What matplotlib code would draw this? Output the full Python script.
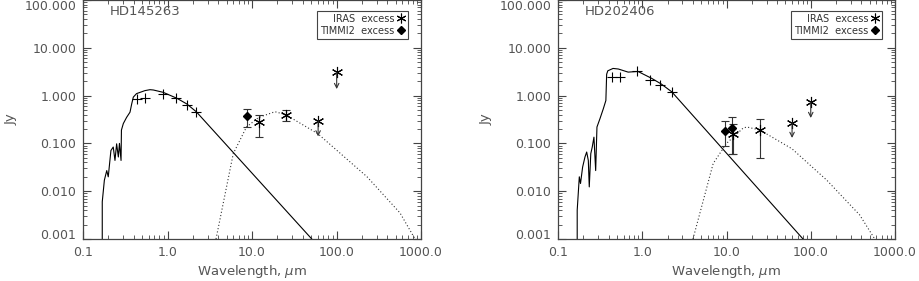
import matplotlib
matplotlib.use('Agg')
import matplotlib.pyplot as plt
from matplotlib.ticker import FixedLocator, FuncFormatter, LogLocator, NullFormatter
from matplotlib.lines import Line2D

plt.rcParams['font.family'] = ['DejaVu Sans']
plt.rcParams['mathtext.fontset'] = 'dejavusans'

TXT = '#555555'
AXC = '#444444'

names = ['HD145263', 'HD202406']

# ---- HD145263 ----
phot1_wl = [0.169, 0.169, 0.179, 0.191, 0.199, 0.214, 0.228, 0.239, 0.25, 0.262,
            0.27, 0.282, 0.285, 0.30, 0.328, 0.36, 0.377, 0.394, 0.43, 0.54,
            0.62, 0.68, 0.89, 1.29, 1.69, 2.19, 51.0]
phot1_fl = [0.001, 0.006, 0.017, 0.027, 0.02, 0.071, 0.084, 0.044, 0.098, 0.052,
            0.1, 0.044, 0.19, 0.26, 0.35, 0.45, 0.67, 0.93, 1.1, 1.27,
            1.33, 1.31, 1.17, 0.88, 0.67, 0.46, 0.001]
disk1_wl = [3.75, 6.0, 8.6, 12.0, 18.7, 25.0, 60.0, 91.0, 230.0, 565.0, 850.0]
disk1_fl = [0.001, 0.061, 0.22, 0.35, 0.46, 0.40, 0.16, 0.084, 0.020, 0.0035, 0.001]
obs1_wl = [0.43, 0.54, 0.89, 1.25, 1.69, 2.2]
obs1_fl = [0.83, 0.88, 1.08, 0.88, 0.64, 0.45]
timmi1_wl = [8.7]
timmi1_fl = [0.37]
timmi1_lo = [0.22]
timmi1_hi = [0.53]
iras1_wl = [12.1, 25.0]
iras1_fl = [0.28, 0.40]
iras1_lo = [0.135, 0.30]
iras1_hi = [0.40, 0.49]
lim1_wl = [60.6, 100.5]
lim1_fl = [0.30, 3.05]
lim1_to = [0.14, 1.37]

# ---- HD202406 ----
phot2_wl = [0.169, 0.169, 0.179, 0.185, 0.196, 0.209, 0.219, 0.229, 0.235, 0.245,
            0.255, 0.267, 0.28, 0.29, 0.315, 0.345, 0.37, 0.378, 0.39, 0.45,
            0.52, 0.68, 0.89, 1.29, 1.68, 2.24, 81.0]
phot2_fl = [0.001, 0.004, 0.02, 0.0145, 0.032, 0.052, 0.066, 0.044, 0.0123, 0.061,
            0.084, 0.135, 0.027, 0.22, 0.33, 0.53, 0.79, 2.8, 3.3, 3.7,
            3.6, 3.1, 3.2, 2.3, 1.75, 1.2, 0.001]
disk2_wl = [4.0, 6.95, 10.0, 15.8, 17.5, 25.0, 60.0, 155.0, 380.0, 575.0]
disk2_fl = [0.001, 0.038, 0.10, 0.21, 0.22, 0.19, 0.077, 0.017, 0.0032, 0.001]
obs2_wl = [0.44, 0.545, 0.87, 1.24, 1.62, 2.24]
obs2_fl = [2.4, 2.5, 3.2, 2.15, 1.66, 1.17]
timmi2_wl = [9.7, 11.7]
timmi2_fl = [0.18, 0.21]
timmi2_lo = [0.087, 0.059]
timmi2_hi = [0.30, 0.35]
iras2_wl = [12.0, 25.0]
iras2_fl = [0.16, 0.19]
iras2_lo = [0.061, 0.05]
iras2_hi = [0.26, 0.33]
lim2_wl = [60.0, 100.0]
lim2_fl = [0.27, 0.73]
lim2_to = [0.13, 0.34]

ASTER = (6, 2, 0)


def draw_panel(ax, name, phot_wl, phot_fl, disk_wl, disk_fl, obs_wl, obs_fl,
               t_wl, t_fl, t_lo, t_hi, i_wl, i_fl, i_lo, i_hi,
               l_wl, l_fl, l_to):

    ax.plot(phot_wl, phot_fl, color='black', lw=0.8)
    ax.plot(disk_wl, disk_fl, color='#333333', lw=0.8, linestyle=(0, (1, 2)))
    ax.plot(obs_wl, obs_fl, linestyle='none', marker='+', ms=7, mew=0.8,
            color='black')

    t_err = [[f - lo for f, lo in zip(t_fl, t_lo)],
             [hi - f for f, hi in zip(t_fl, t_hi)]]
    ax.errorbar(t_wl, t_fl, yerr=t_err, fmt='D', ms=4.5, color='black',
                ecolor='#333333', elinewidth=0.8, capsize=3, capthick=0.8)

    i_err = [[f - lo for f, lo in zip(i_fl, i_lo)],
             [hi - f for f, hi in zip(i_fl, i_hi)]]
    ax.errorbar(i_wl, i_fl, yerr=i_err, fmt='none', ecolor='#333333',
                elinewidth=0.8, capsize=3, capthick=0.8)
    ax.plot(i_wl + l_wl, i_fl + l_fl, linestyle='none', marker=ASTER, ms=8,
            mew=0.8, color='black')

    for w, f, t in zip(l_wl, l_fl, l_to):
        ax.annotate('', xy=(w, t), xytext=(w, f),
                    arrowprops=dict(arrowstyle='->', color='#333333', lw=0.8,
                                    shrinkA=0, shrinkB=0,
                                    mutation_scale=8))

    ax.set_xscale('log')
    ax.set_yscale('log')
    ax.set_xlim(0.1, 1000)
    ax.set_ylim(0.001, 100)

    ax.xaxis.set_major_locator(FixedLocator([0.1, 1, 10, 100, 1000]))
    ax.xaxis.set_major_formatter(FuncFormatter(lambda v, p: '%.1f' % v))
    ax.xaxis.set_minor_locator(LogLocator(base=10, subs=range(2, 10)))
    ax.xaxis.set_minor_formatter(NullFormatter())
    ax.yaxis.set_major_locator(FixedLocator([0.001, 0.01, 0.1, 1, 10, 100]))
    ax.yaxis.set_major_formatter(FuncFormatter(lambda v, p: '%.3f' % v))
    ax.yaxis.set_minor_locator(LogLocator(base=10, subs=range(2, 10)))
    ax.yaxis.set_minor_formatter(NullFormatter())

    ax.tick_params(which='both', direction='in', top=True, right=True,
                   colors=AXC, labelcolor=TXT, labelsize=9)
    ax.tick_params(which='major', length=6, width=0.8, pad=5)
    ax.tick_params(which='minor', length=3, width=0.6)
    for sp in ax.spines.values():
        sp.set_color(AXC)
        sp.set_linewidth(0.9)

    ax.set_xlabel(r'Wavelength, $\mu$m', color=TXT, fontsize=9.5, labelpad=3)
    ax.set_ylabel('Jy', color=TXT, fontsize=9.5, labelpad=5)
    ax.text(0.08, 0.95, name, transform=ax.transAxes, color=TXT, fontsize=9.5,
            va='center', ha='left')

    handles = [Line2D([], [], linestyle='none', marker=ASTER, ms=7, mew=0.8,
                      color='black'),
               Line2D([], [], linestyle='none', marker='D', ms=4, color='black')]
    leg = ax.legend(handles, ['IRAS  excess', 'TIMMI2  excess'],
                    loc='upper right', bbox_to_anchor=(0.962, 0.955),
                    borderaxespad=0, markerfirst=False, fontsize=7,
                    handlelength=0.8, handletextpad=0.3, borderpad=0.3,
                    labelspacing=0.2, fancybox=False, framealpha=1)
    leg.get_frame().set_edgecolor(AXC)
    leg.get_frame().set_linewidth(0.8)
    for t in leg.get_texts():
        t.set_color('#333333')
    leg._legend_box.align = 'right'

    # keep the end labels inside the window, as the original does
    yticks = ax.yaxis.get_major_ticks()
    yticks[0].label1.set_verticalalignment('baseline')
    yticks[-1].label1.set_verticalalignment('top')

    return


fig = plt.figure(figsize=(9.19, 2.81), dpi=100)
ax1 = fig.add_axes([83 / 919, 42 / 281, 338 / 919, 239 / 281])
ax2 = fig.add_axes([558 / 919, 42 / 281, 337 / 919, 239 / 281])

draw_panel(ax1, names[0], phot1_wl, phot1_fl, disk1_wl, disk1_fl,
           obs1_wl, obs1_fl, timmi1_wl, timmi1_fl, timmi1_lo, timmi1_hi,
           iras1_wl, iras1_fl, iras1_lo, iras1_hi, lim1_wl, lim1_fl, lim1_to)
draw_panel(ax2, names[1], phot2_wl, phot2_fl, disk2_wl, disk2_fl,
           obs2_wl, obs2_fl, timmi2_wl, timmi2_fl, timmi2_lo, timmi2_hi,
           iras2_wl, iras2_fl, iras2_lo, iras2_hi, lim2_wl, lim2_fl, lim2_to)

fig.savefig('out.png', dpi=100)
